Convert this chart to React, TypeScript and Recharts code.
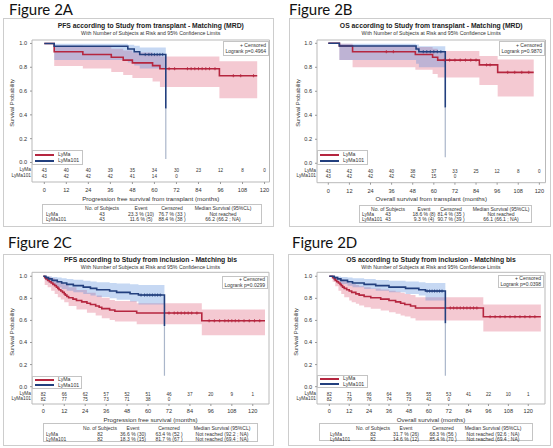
import { ComposedChart, Line, Area, XAxis, YAxis, ReferenceArea } from 'recharts'

type Pt = [number, number]
type Ci = [number, number, number]

const MONTHS = [0, 12, 24, 36, 48, 60, 72, 84, 96, 108, 120]
const PROBS = [0, 0.2, 0.4, 0.6, 0.8, 1]
const GROUPS = ['LyMa', 'LyMa101']
const TABLE_HEAD = ['No. of Subjects', 'Event', 'Censored', 'Median Survival (95%CL)']
const SUBTITLE = 'With Number of Subjects at Risk and 95% Confidence Limits'

// Figure 2A - PFS from transplant
const aRed: Pt[] = [[0, 1], [5.4, 0.93], [21, 0.907], [36.5, 0.884], [43, 0.86], [48, 0.837], [59, 0.814], [63, 0.788], [95.4, 0.729], [116, 0.729]]
const aRedCi: Ci[] = [[5.4, 0.81, 0.98], [21, 0.79, 0.97], [36.5, 0.76, 0.955], [43, 0.735, 0.94], [48, 0.71, 0.925], [59, 0.68, 0.905], [63, 0.635, 0.89], [95.4, 0.54, 0.85], [116, 0.54, 0.85]]
const aRedCens = [68, 71, 78, 80, 82, 84, 86, 88, 90, 93, 103, 107, 114]
const aBlue: Pt[] = [[0, 1], [5.4, 0.977], [45.5, 0.953], [49, 0.93], [52, 0.907], [66.2, 0.453]]
const aBlueCi: Ci[] = [[5.4, 0.86, 0.997], [45.5, 0.84, 0.99], [49, 0.815, 0.98], [52, 0.79, 0.965], [66.2, 0.79, 0.965]]
const aBlueCens = [55, 57, 58.5, 60, 61.5, 63, 64.5]
const aTail: Pt[] = [[66.2, 0.453], [66.2, 0.03]]
const aRiskRed = [43, 40, 40, 39, 35, 34, 30, 23, 12, 8, 0]
const aRiskBlue = [43, 42, 42, 42, 41, 14, 0]
const aRows = [
  ['LyMa', '43', '23.3 % (10)', '76.7 % (33 )', 'Not reached'],
  ['LyMa101', '43', '11.6 % (5)', '88.4 % (38 )', '66.2 (66.2 ; NA)'],
]

// Figure 2B - OS from transplant
const bRed: Pt[] = [[0, 1], [6.3, 0.977], [13.8, 0.93], [49.5, 0.907], [59.3, 0.884], [62.2, 0.86], [85.9, 0.82], [96.3, 0.758], [116.8, 0.758]]
const bRedCi: Ci[] = [[6.3, 0.86, 0.997], [13.8, 0.8, 0.98], [49.5, 0.78, 0.97], [59.3, 0.745, 0.955], [62.2, 0.714, 0.936], [85.9, 0.653, 0.895], [96.3, 0.556, 0.865], [116.8, 0.556, 0.865]]
const bRedCens = [33, 37, 66, 69, 72, 75, 78, 81, 84, 90, 92, 102, 106, 110, 114]
const bBlue: Pt[] = [[0, 1], [6.3, 0.977], [49.9, 0.953], [51.5, 0.93], [66.5, 0.465]]
const bBlueCi: Ci[] = [[6.3, 0.86, 0.997], [49.9, 0.83, 0.99], [51.5, 0.8, 0.975], [66.5, 0.8, 0.975]]
const bBlueCens = [54, 56, 58, 60, 62, 64]
const bTail: Pt[] = [[66.5, 0.465], [66.5, 0.05]]
const bRiskRed = [43, 42, 40, 40, 38, 37, 33, 25, 12, 8, 0]
const bRiskBlue = [43, 42, 42, 42, 42, 15, 0]
const bRows = [
  ['LyMa', '43', '18.6 % (8)', '81.4 % (35 )', 'Not reached'],
  ['LyMa101', '43', '9.3 % (4)', '90.7 % (39 )', '66.1 (66.1 ; NA)'],
]

// Figure 2C - PFS from inclusion
const cRed: Pt[] = [[0, 1], [0.8, 0.988], [1.5, 0.976], [2.5, 0.963], [3.5, 0.951], [4.5, 0.939], [5.5, 0.927], [6.5, 0.915], [7.5, 0.902], [8.3, 0.89], [9, 0.878], [10, 0.866], [11, 0.854], [12, 0.841], [12.6, 0.829], [13.5, 0.817], [14.5, 0.805], [17, 0.793], [19, 0.78], [22, 0.768], [25, 0.756], [27, 0.744], [30, 0.731], [32, 0.719], [33.5, 0.707], [38, 0.695], [41, 0.683], [53.5, 0.667], [90.8, 0.597], [127, 0.597]]
const cRedCi: Ci[] = [[0.8, 0.92, 1], [2.5, 0.9, 0.995], [4.5, 0.87, 0.985], [6.5, 0.84, 0.97], [8.3, 0.81, 0.955], [10, 0.79, 0.94], [12, 0.765, 0.925], [14.5, 0.73, 0.9], [19, 0.7, 0.875], [25, 0.67, 0.85], [30, 0.645, 0.825], [33.5, 0.62, 0.805], [38, 0.605, 0.785], [41, 0.59, 0.775], [53.5, 0.565, 0.755], [90.8, 0.465, 0.7], [127, 0.465, 0.7]]
const cRedCens = [72, 75, 77, 79, 81, 83, 85, 88, 95, 98, 101, 104, 106, 108, 110, 112, 115, 118, 121, 124]
const cBlue: Pt[] = [[0, 1], [1.5, 0.988], [3, 0.976], [5, 0.963], [8, 0.951], [10.5, 0.939], [13.4, 0.927], [17.2, 0.915], [22.9, 0.902], [27, 0.89], [30.6, 0.878], [38, 0.866], [42, 0.854], [49.7, 0.842], [54.5, 0.83], [69.4, 0.55]]
const cBlueCi: Ci[] = [[1.5, 0.96, 1], [3, 0.94, 0.997], [5, 0.92, 0.993], [8, 0.9, 0.988], [10.5, 0.885, 0.982], [13.4, 0.87, 0.975], [17.2, 0.855, 0.968], [22.9, 0.84, 0.96], [27, 0.825, 0.953], [30.6, 0.812, 0.945], [38, 0.8, 0.94], [42, 0.787, 0.935], [49.7, 0.772, 0.928], [54.5, 0.745, 0.92], [69.4, 0.745, 0.92]]
const cBlueCens = [56, 58, 59.5, 61, 62.5, 64, 65.5, 67]
const cTail: Pt[] = [[69.4, 0.55], [69.4, 0.1]]
const cRiskRed = [82, 66, 62, 57, 52, 51, 46, 37, 20, 9, 1]
const cRiskBlue = [82, 77, 75, 73, 71, 38, 0]
const cRows = [
  ['LyMa', '82', '36.6 % (30)', '63.4 % (52 )', 'Not reached (92.2 ; NA)'],
  ['LyMa101', '82', '18.3 % (15)', '81.7 % (67 )', 'Not reached (69.4 ; NA)'],
]

// Figure 2D - OS from inclusion
const dRed: Pt[] = [[0, 1], [2, 0.988], [3, 0.976], [3.6, 0.963], [4.5, 0.951], [5.5, 0.939], [6.5, 0.927], [7.2, 0.915], [8, 0.902], [9, 0.89], [10.5, 0.878], [12, 0.866], [13.5, 0.854], [16, 0.841], [18, 0.829], [21, 0.817], [25, 0.805], [31, 0.793], [36, 0.78], [40, 0.768], [43, 0.756], [45.5, 0.744], [49, 0.731], [52, 0.713], [92.9, 0.634], [127.6, 0.634]]
const dRedCi: Ci[] = [[2, 0.95, 1], [3.6, 0.91, 0.995], [5.5, 0.87, 0.985], [7.2, 0.84, 0.97], [9, 0.81, 0.955], [12, 0.78, 0.94], [13.5, 0.765, 0.93], [16, 0.75, 0.92], [18, 0.735, 0.91], [21, 0.72, 0.9], [25, 0.705, 0.89], [31, 0.69, 0.88], [36, 0.675, 0.87], [40, 0.66, 0.86], [43, 0.645, 0.85], [45.5, 0.635, 0.84], [49, 0.62, 0.83], [52, 0.6, 0.81], [92.9, 0.5, 0.745], [127.6, 0.5, 0.745]]
const dRedCens = [73, 75, 77, 79, 81, 83, 85, 87, 89, 97, 100, 103, 106, 109, 112, 115, 118, 121, 124]
const dBlue: Pt[] = [[0, 1], [3, 0.988], [5, 0.976], [7, 0.963], [11, 0.951], [14, 0.939], [21, 0.927], [28, 0.915], [36, 0.902], [46, 0.89], [54, 0.878], [58, 0.866], [70, 0.574]]
const dBlueCi: Ci[] = [[3, 0.96, 1], [5, 0.945, 0.997], [7, 0.93, 0.993], [11, 0.915, 0.988], [14, 0.9, 0.982], [21, 0.885, 0.975], [28, 0.87, 0.967], [36, 0.855, 0.96], [46, 0.84, 0.952], [54, 0.825, 0.945], [58, 0.78, 0.94], [70, 0.78, 0.94]]
const dBlueCens = [59, 60.5, 62, 63.5, 65, 66.5, 68]
const dTail: Pt[] = [[70, 0.574], [70, 0.1]]
const dRiskRed = [82, 71, 66, 64, 56, 55, 53, 41, 22, 10, 1]
const dRiskBlue = [82, 79, 76, 74, 73, 41, 0]
const dRows = [
  ['LyMa', '82', '31.7 % (26)', '68.3 % (56 )', 'Not reached (92.6 ; NA)'],
  ['LyMa101', '82', '14.6 % (12)', '85.4 % (70 )', 'Not reached (69.4 ; NA)'],
]

const SANS = '"Liberation Sans", Arial, sans-serif'
const RED = '#b5263f'
const BLUE = '#223f7e'
const TXT = '#333'

const toSteps = (rows: Pt[]) => rows.map(([t, s]) => ({ t, s }))
const toBand = (rows: Ci[]) => rows.map(([t, lo, hi]) => ({ t, r: [lo, hi] }))
const valueAt = (curve: Pt[], t: number) => {
  let v = curve[0][1]
  for (const [ct, cs] of curve) if (ct <= t) v = cs
  return v
}
const toMarks = (times: number[], curve: Pt[]) => times.map((t) => ({ t, s: valueAt(curve, t) }))

const plusDot = (color: string) => (p: any) => {
  if (p.cx == null || p.cy == null) return <g key={p.key} />
  return (
    <path
      key={p.key ?? `${p.cx}-${p.cy}`}
      d={`M${p.cx - 1.6},${p.cy}h3.2M${p.cx},${p.cy - 1.6}v3.2`}
      stroke={color}
      strokeWidth={0.8}
      fill="none"
    />
  )
}

function Txt({ x, y, size, anchor = 'start', bold, color = TXT, children }: any) {
  const w = 400
  const left = anchor === 'middle' ? x - w / 2 : anchor === 'end' ? x - w : x
  return (
    <div
      style={{
        position: 'absolute',
        left,
        top: y - size / 2,
        width: w,
        height: size,
        lineHeight: `${size}px`,
        fontSize: size,
        fontWeight: bold ? 700 : 400,
        color,
        textAlign: anchor === 'middle' ? 'center' : anchor === 'end' ? 'right' : 'left',
        whiteSpace: 'nowrap',
        fontFamily: SANS,
      }}
    >
      {children}
    </div>
  )
}

const TICK_LEN = 2
const TICK_GAP = 1

function makeRiskTick(red: number[], blue: number[], off: any) {
  return (props: any) => {
    const { x, y, payload } = props
    const i = MONTHS.indexOf(payload.value)
    const axisY = y - TICK_LEN - TICK_GAP
    const common = { x, textAnchor: 'middle' as const, dominantBaseline: 'central' as const, fontFamily: SANS, fill: TXT }
    return (
      <g>
        <text {...common} y={axisY + off.red} fontSize={4.6}>{red[i] ?? ''}</text>
        <text {...common} y={axisY + off.blue} fontSize={4.6}>{blue[i] ?? ''}</text>
        <text {...common} y={axisY + off.label} fontSize={5.6}>{payload.value}</text>
      </g>
    )
  }
}

const figures = [
  {
    label: 'Figure 2A', labelPos: [9, 9],
    title: 'PFS according to Study from transplant - Matching (MRD)',
    axisTitle: 'Progression free survival from transplant (months)',
    logrank: 'Logrank p=0.4964',
    box: { left: 3, top: 18, width: 271, height: 209 },
    plot: { left: 32, top: 40, right: 269.5, bottom: 182 },
    x: [-6.7, 122.7], y: [-0.164, 1.029],
    risk: { red: -11.5, blue: -6, label: 8 },
    titleY: 26.3, subY: 34, axisTitleY: 199, yLab: [11.7, 103],
    legend: { left: 32, top: 150, width: 51, height: 15 },
    cens: { left: 223, top: 41, width: 46, height: 15 },
    table: { left: 42, top: 204, width: 220, height: 20, cols: [46, 102, 141, 172, 223], rows: [208, 214, 219.5] },
    red: aRed, redCi: aRedCi, redCens: aRedCens, blue: aBlue, blueCi: aBlueCi, blueCens: aBlueCens, tail: aTail,
    riskRed: aRiskRed, riskBlue: aRiskBlue, rows: aRows,
  },
  {
    label: 'Figure 2B', labelPos: [289, 9],
    title: 'OS according to Study from transplant - Matching (MRD)',
    axisTitle: 'Overall survival from transplant (months)',
    logrank: 'Logrank p=0.9870',
    box: { left: 289, top: 18, width: 262, height: 209 },
    plot: { left: 317, top: 40, right: 545.5, bottom: 182.7 },
    x: [-6.43, 123.5], y: [-0.162, 1.0275],
    risk: { red: -11.5, blue: -6, label: 8 },
    titleY: 26.3, subY: 34, axisTitleY: 199, yLab: [297.5, 103],
    legend: { left: 317, top: 150, width: 51, height: 15 },
    cens: { left: 499, top: 41, width: 46, height: 15 },
    table: { left: 359, top: 205, width: 173, height: 18, cols: [362, 388, 424, 451, 501], rows: [209, 214.5, 219.5] },
    red: bRed, redCi: bRedCi, redCens: bRedCens, blue: bBlue, blueCi: bBlueCi, blueCens: bBlueCens, tail: bTail,
    riskRed: bRiskRed, riskBlue: bRiskBlue, rows: bRows,
  },
  {
    label: 'Figure 2C', labelPos: [8, 241.5],
    title: 'PFS according to Study from inclusion - Matching bis',
    axisTitle: 'Progression free survival (months)',
    logrank: 'Logrank p=0.0299',
    box: { left: 3, top: 254, width: 271, height: 192 },
    plot: { left: 32, top: 272.3, right: 269, bottom: 404 },
    x: [-6.48, 129.3], y: [-0.157, 1.036],
    risk: { red: -9.3, blue: -5, label: 6.5 },
    titleY: 260.5, subY: 267.6, axisTitleY: 419.7, yLab: [11.7, 331.5],
    legend: { left: 32, top: 376, width: 50, height: 13 },
    cens: { left: 222, top: 276, width: 46, height: 13 },
    table: { left: 43, top: 423, width: 215, height: 19, cols: [46, 100, 133, 169, 222], rows: [428, 434, 439.5] },
    red: cRed, redCi: cRedCi, redCens: cRedCens, blue: cBlue, blueCi: cBlueCi, blueCens: cBlueCens, tail: cTail,
    riskRed: cRiskRed, riskBlue: cRiskBlue, rows: cRows,
  },
  {
    label: 'Figure 2D', labelPos: [292, 241.5],
    title: 'OS according to Study from inclusion - Matching bis',
    axisTitle: 'Overall survival (months)',
    logrank: 'Logrank p=0.0398',
    box: { left: 288, top: 254, width: 263, height: 192 },
    plot: { left: 317, top: 272.3, right: 545, bottom: 404 },
    x: [-7.42, 130.1], y: [-0.157, 1.036],
    risk: { red: -9.3, blue: -5, label: 6.5 },
    titleY: 260.5, subY: 267.6, axisTitleY: 419.7, yLab: [296, 331.5],
    legend: { left: 317, top: 375, width: 51, height: 13 },
    cens: { left: 498, top: 275, width: 46, height: 13 },
    table: { left: 319, top: 423, width: 214, height: 18, cols: [330, 373, 406, 443, 493], rows: [428, 434, 439.5] },
    red: dRed, redCi: dRedCi, redCens: dRedCens, blue: dBlue, blueCi: dBlueCi, blueCens: dBlueCens, tail: dTail,
    riskRed: dRiskRed, riskBlue: dRiskBlue, rows: dRows,
  },
]

const Y_AXIS_W = 20
const X_AXIS_H = 14

function Figure({ f }: { f: (typeof figures)[number] }) {
  const { box, plot } = f
  const margin = {
    top: plot.top - box.top,
    left: plot.left - box.left - Y_AXIS_W,
    right: box.left + box.width - plot.right,
    bottom: box.top + box.height - plot.bottom - X_AXIS_H,
  }
  const cx = (plot.left + plot.right) / 2
  const lg = f.legend
  const cs = f.cens
  const tb = f.table
  return (
    <>
      <div style={{ position: 'absolute', left: box.left, top: box.top, width: box.width - 2, height: box.height - 2, border: '1px solid #cdcdcd' }} />
      <div style={{ position: 'absolute', left: f.labelPos[0], top: f.labelPos[1] - 9, fontFamily: 'Lato, "Open Sans", sans-serif', fontSize: 15, lineHeight: '18px', color: '#111' }}>
        {f.label}
      </div>
      <Txt x={cx} y={f.titleY} size={6.8} anchor="middle" bold color="#222">{f.title}</Txt>
      <Txt x={cx} y={f.subY} size={5.2} anchor="middle">{SUBTITLE}</Txt>

      <div style={{ position: 'absolute', left: box.left, top: box.top }}>
        <ComposedChart width={box.width} height={box.height} margin={margin}>
          <XAxis
            type="number"
            dataKey="t"
            domain={f.x}
            allowDataOverflow
            ticks={MONTHS}
            interval={0}
            height={X_AXIS_H}
            axisLine={false}
            tickSize={TICK_LEN}
            tickMargin={TICK_GAP}
            tickLine={{ stroke: '#999' }}
            tick={makeRiskTick(f.riskRed, f.riskBlue, f.risk)}
          />
          <YAxis
            type="number"
            domain={f.y}
            allowDataOverflow
            ticks={PROBS}
            interval={0}
            width={Y_AXIS_W}
            axisLine={false}
            tickSize={2}
            tickMargin={3}
            tickLine={{ stroke: '#999' }}
            tickFormatter={(v: number) => v.toFixed(1)}
            tick={{ fontSize: 5.6, fill: TXT, fontFamily: SANS }}
          />
          <ReferenceArea x1={f.x[0]} x2={f.x[1]} y1={f.y[0]} y2={f.y[1]} fill="none" stroke="#b9b9b9" strokeWidth={1} ifOverflow="visible" />
          <Area data={toBand(f.redCi)} dataKey="r" type="stepAfter" stroke="none" fill="#d94c6a" fillOpacity={0.3} isAnimationActive={false} />
          <Area data={toBand(f.blueCi)} dataKey="r" type="stepAfter" stroke="none" fill="#4f86d9" fillOpacity={0.32} isAnimationActive={false} />
          <Line data={toSteps(f.tail)} dataKey="s" type="linear" stroke="#aab6ca" strokeWidth={1.2} dot={false} isAnimationActive={false} />
          <Line data={toSteps(f.red)} dataKey="s" type="stepAfter" stroke={RED} strokeWidth={1.6} dot={false} isAnimationActive={false} />
          <Line data={toSteps(f.blue)} dataKey="s" type="stepAfter" stroke={BLUE} strokeWidth={1.6} dot={false} isAnimationActive={false} />
          <Line data={toMarks(f.redCens, f.red)} dataKey="s" stroke="none" dot={plusDot(RED)} isAnimationActive={false} />
          <Line data={toMarks(f.blueCens, f.blue)} dataKey="s" stroke="none" dot={plusDot(BLUE)} isAnimationActive={false} />
        </ComposedChart>
      </div>

      <div style={{ position: 'absolute', left: f.yLab[0] - 50, top: f.yLab[1] - 3, width: 100, height: 6, transform: 'rotate(-90deg)', textAlign: 'center', fontSize: 5.6, lineHeight: '6px', fontFamily: SANS, color: TXT, whiteSpace: 'nowrap' }}>
        Survival Probability
      </div>
      <Txt x={plot.left - 1} y={plot.bottom + f.risk.red} size={4.8} anchor="end">{GROUPS[0]}</Txt>
      <Txt x={plot.left - 1} y={plot.bottom + f.risk.blue} size={4.8} anchor="end">{GROUPS[1]}</Txt>
      <Txt x={cx} y={f.axisTitleY} size={6.2} anchor="middle">{f.axisTitle}</Txt>

      <div style={{ position: 'absolute', left: lg.left, top: lg.top, width: lg.width - 2, height: lg.height - 2, border: '1px solid #c4c4c4', background: '#fff' }} />
      {[RED, BLUE].map((c, i) => {
        const yy = lg.top + lg.height * (i === 0 ? 0.3 : 0.7)
        return (
          <div key={c}>
            <div style={{ position: 'absolute', left: lg.left + 3, top: yy - 1, width: 19, height: 2, background: c }} />
            <Txt x={lg.left + 26} y={yy} size={5.2}>{GROUPS[i]}</Txt>
          </div>
        )
      })}

      <div style={{ position: 'absolute', left: cs.left, top: cs.top, width: cs.width - 2, height: cs.height - 2, border: '1px solid #c4c4c4', background: '#fff' }} />
      <Txt x={cs.left + cs.width - 3} y={cs.top + cs.height * 0.3} size={5} anchor="end">+ Censored</Txt>
      <Txt x={cs.left + cs.width - 3} y={cs.top + cs.height * 0.7} size={5} anchor="end">{f.logrank}</Txt>

      <div style={{ position: 'absolute', left: tb.left, top: tb.top, width: tb.width - 2, height: tb.height - 2, border: '1px solid #c4c4c4' }} />
      {TABLE_HEAD.map((h, j) => (
        <Txt key={h} x={tb.cols[j + 1]} y={tb.rows[0]} size={5} anchor="middle">{h}</Txt>
      ))}
      {f.rows.map((row, i) =>
        row.map((cell, j) => (
          <Txt key={`${i}-${j}`} x={tb.cols[j]} y={tb.rows[i + 1]} size={5} anchor={j === 0 ? 'start' : 'middle'}>{cell}</Txt>
        )),
      )}
    </>
  )
}

export default function App() {
  return (
    <div style={{ position: 'absolute', left: 0, top: 0, width: 553, height: 448, background: '#fff', overflow: 'hidden' }}>
      {figures.map((f) => (
        <Figure key={f.label} f={f} />
      ))}
    </div>
  )
}
